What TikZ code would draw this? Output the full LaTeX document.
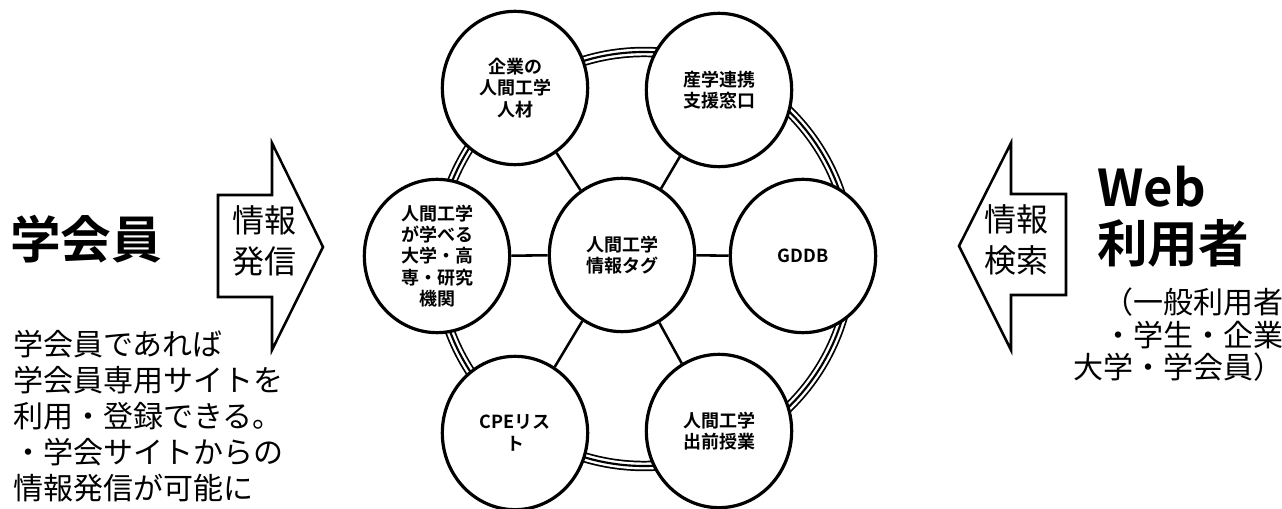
\documentclass[tikz,border=0pt]{standalone}
\usepackage{fontspec}
\setmainfont{Noto Sans CJK JP}[BoldFont={Noto Sans CJK JP Bold}]
\usetikzlibrary{shapes.geometric}

\begin{document}
\begin{tikzpicture}[x=0.75pt,y=0.75pt]
	\tikzstyle{every node}+=[inner sep=0pt]
	\tikzstyle{topic}=[draw=black, fill=white, ellipse, line width=2.4pt, minimum width=109pt, minimum height=115pt, align=center, font=\bfseries\fontsize{13.5}{16}\selectfont]
	\tikzstyle{spoke}=[black, line width=1.9pt]
	\tikzstyle{bigarrow}=[black, line width=1.9pt, line join=miter]
	\tikzstyle{arrowtext}=[align=center, font=\fontsize{24}{31}\selectfont]
	\tikzstyle{bigtext}=[align=left, font=\bfseries\fontsize{38}{42}\selectfont]
	\tikzstyle{note}=[font=\fontsize{22.5}{27}\selectfont]
	\useasboundingbox (0,0) rectangle (1282,-509);
	% triple ring behind the circles
	\draw [black, line width=7.8pt] (644,-259) circle (207);
	\draw [white, line width=5.2pt] (644,-259) circle (207);
	\draw [black, line width=1.6pt] (644,-259) circle (207);
	% circles
	\node [topic] (ctr) at (622,-255) {人間工学\\情報タグ};
	\node [topic] (jinzai) at (515,-88) {企業の\\人間工学\\人材};
	\node [topic] (madoguchi) at (719,-90) {産学連携\\支援窓口};
	\node [topic] (daigaku) at (437,-256) {人間工学\\が学べる\\大学・高\\専・研究\\機関};
	\node [topic] (gddb) at (803,-256) {GDDB};
	\node [topic] (cpe) at (515,-433) {CPEリス\\ト};
	\node [topic] (jugyo) at (719,-431) {人間工学\\出前授業};
	\foreach \n in {jinzai,madoguchi,daigaku,gddb,cpe,jugyo}
		\draw [spoke] (ctr) -- (\n);
	% left side
	\node [bigtext] (member) at (86,-239) {学会員};
	\draw [bigarrow] (218,-195) -- (272,-195) -- (272,-143) -- (323,-247) -- (272,-350) -- (272,-297) -- (218,-297) -- cycle;
	\node [arrowtext] (send) at (264,-241) {情報\\発信};
	\node [note, align=left, anchor=west] (membernote) at (13,-416) {学会員であれば\\学会員専用サイトを\\利用・登録できる。\\・学会サイトからの\\情報発信が可能に};
	% right side
	\draw [bigarrow] (1066,-194) -- (1011,-194) -- (1011,-143) -- (959,-246) -- (1011,-350) -- (1011,-295) -- (1066,-295) -- cycle;
	\node [arrowtext] (search) at (1016,-240) {情報\\検索};
	\node [bigtext, anchor=west] (webuser) at (1097,-217) {Web\\利用者};
	\node [note, align=right, anchor=east, font=\fontsize{22.5}{24.4}\selectfont] (usernote) at (1284,-335) {（一般利用者\\・学生・企業\\大学・学会員）};
\end{tikzpicture}
\end{document}
